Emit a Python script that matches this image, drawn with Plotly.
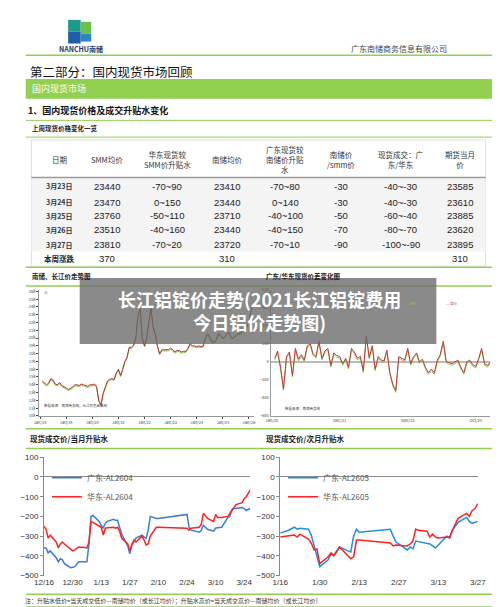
import plotly.graph_objects as go
import pandas as pd

W, H = 500, 607
def X(p): return p / W
def Y(p): return 1 - p / H

CJK = "Noto Sans CJK SC"
GREEN = "#92d050"

# ---- table data ----
tbl_header = ["日期", "SMM均价", "华东现货较<br>SMM价升贴水", "南储均价", "广东现货较<br>南储价升贴<br>水",
              "南储价<br>/smm价", "现货成交：广<br>东/华东", "期货当月<br>价"]
tbl_dates = ["3月23日", "3月24日", "3月25日", "3月26日", "3月27日"]
tbl_smm = ["23440", "23470", "23760", "23510", "23810"]
tbl_hd = ["-70~90", "0~150", "-50~110", "-40~160", "-70~20"]
tbl_nc = ["23410", "23440", "23710", "23440", "23720"]
tbl_gd = ["-70~80", "0~140", "-40~100", "-40~150", "-70~10"]
tbl_ratio = ["-30", "-30", "-50", "-70", "-90"]
tbl_deal = ["-40~-30", "-40~-30", "-60~-40", "-80~-70", "-100~-90"]
tbl_fut = ["23585", "23610", "23885", "23620", "23895"]
tbl_week = ["本周涨跌", "370", "", "310", "", "", "", "310"]

# ---- long-term price (monthly, Jan-2018 .. Mar-2026) ----
price = [14500, 14300, 14000, 14200, 14800, 14600, 14100, 14000, 14300, 13900, 13800, 13600,
         13400, 13500, 13700, 14000, 14000, 13900, 14100, 14000, 13900, 13800, 14000, 14000,
         14100, 13800, 12000, 11400, 12900, 13600, 14500, 14700, 14800, 14700, 15500, 16000,
         15200, 16000, 17000, 17500, 18800, 18800, 19100, 20000, 22800, 23900, 20000, 19000,
         20000, 22000, 23800, 21500, 20500, 19000, 18000, 18500, 18500, 18500, 18500, 18700,
         18500, 18200, 18400, 18400, 18200, 18300, 18300, 18700, 19300, 19000, 19000, 18900,
         19000, 18900, 19000, 20000, 20600, 20200, 19500, 19500, 19800, 20600, 20300, 20000,
         20200, 20600, 20700, 20000, 20100, 20300, 20600, 20600, 20800, 21100, 21500, 22200,
         23700, 24300, 24800]
price_dates = pd.date_range("2018-01-15", periods=len(price), freq="MS")

# ---- Guangdong/East China spread (monthly, Jan-2020 .. Feb-2026) ----
spread_hi = [40, 120, -60, -300, 60, 110, -150, 150, 30, 80, 20, 180,
             200, 90, 60, 230, 40, 120, 150, -40, 100, 70, 60, -20,
             40, -60, 150, 110, 40, 60, -100, 290, 50, 180, -80, 60,
             20, 10, 130, -120, -250, -320, 60, 40, 20, 150, -20, 60,
             100, 0, 30, -60, -120, -80, -120, 20, 80, 230, 10, -10,
             -20, 0, 20, -60, -120, 0, 20, -30, -50, 40, 150, -20, -40, 0]
spread_lo = [v - 18 for v in spread_hi]
spread_dates = pd.date_range("2020-01-15", periods=len(spread_hi), freq="MS")

# ---- current-month premium ----
cm_dates = ["12/16", "12/17", "12/18", "12/19", "12/22", "12/23", "12/24", "12/25", "12/26", "12/29",
            "12/30", "12/31", "1/2", "1/5", "1/6", "1/7", "1/8", "1/9", "1/12", "1/13",
            "1/14", "1/15", "1/16", "1/19", "1/20", "1/21", "1/22", "1/23", "1/26", "1/27",
            "1/28", "1/29", "1/30", "2/2", "2/3", "2/4", "2/5", "2/6", "2/9", "2/10",
            "2/24", "2/25", "2/26", "3/2", "3/3", "3/4", "3/5", "3/6", "3/9", "3/10",
            "3/11", "3/12", "3/13", "3/16", "3/17", "3/18", "3/19", "3/20", "3/23", "3/24",
            "3/25", "3/26", "3/27"]
cm_gd = [-360, -360, -385, -375, -410, -430, -415, -420, -440, -460,
         -458, -455, -430, -430, -430, -340, -200, -195, -225, -245,
         -260, -235, -225, -215, -220, -220, -250, -290, -350, -390,
         -340, -330, -310, -295, -305, -310, -270, -200, -210, -210,
         -190, -255, -270, -280, -270, -245, -255, -265, -275, -260,
         -258, -255, -255, -205, -200, -165, -160, -160, -155, -160,
         -170, -165, -160]
cm_hd = [-250, -265, -310, -295, -330, -360, -340, -330, -340, -370,
         -375, -370, -355, -358, -360, -330, -225, -230, -250, -255,
         -295, -260, -258, -255, -260, -255, -275, -310, -340, -375,
         -345, -320, -330, -300, -320, -345, -340, -300, -255, -255,
         -260, -270, -260, -255, -240, -185, -195, -210, -225, -190,
         -205, -205, -205, -200, -185, -165, -150, -140, -130, -110,
         -100, -80, -65]

# ---- next-month premium ----
nm_dates = ["1/16", "1/19", "1/21", "1/22", "1/23", "1/26", "1/27", "1/28", "1/29", "1/30",
            "2/2", "2/3", "2/4", "2/5", "2/6", "2/9", "2/10", "2/11", "2/12", "2/13",
            "2/24", "2/25", "2/26", "3/2", "3/3", "3/4", "3/5", "3/6", "3/9", "3/10",
            "3/11", "3/12", "3/13", "3/16", "3/17", "3/18", "3/19", "3/20", "3/23", "3/24",
            "3/25", "3/26", "3/27"]
nm_gd = [-285, -270, -255, -265, -260, -265, -295, -350, -400, -455,
         -420, -390, -395, -375, -355, -375, -380, -300, -265, -280,
         -265, -300, -330, -370, -355, -365, -325, -328, -335, -340,
         -350, -360, -345, -300, -305, -270, -250, -230, -205, -225,
         -235, -230, -225]
nm_hd = [-305, -300, -295, -305, -290, -315, -335, -370, -365, -440,
         -405, -385, -400, -380, -355, -400, -415, -405, -320, -320,
         -335, -350, -345, -350, -340, -325, -265, -270, -275, -305,
         -290, -305, -310, -305, -310, -270, -240, -210, -185, -200,
         -170, -160, -135]

def to_dt(lst):
    out = []
    for s in lst:
        m, d = s.split("/")
        yr = 2025 if int(m) == 12 else 2026
        out.append(pd.Timestamp(yr, int(m), int(d)))
    return out

fig = go.Figure()

# top-left price chart
fig.add_trace(go.Scatter(x=price_dates, y=[v - 150 for v in price], mode="lines",
                         line=dict(color="#8fc85a", width=1), xaxis="x", yaxis="y", showlegend=False))
fig.add_trace(go.Scatter(x=price_dates, y=price, mode="lines",
                         line=dict(color="#b03030", width=1), xaxis="x", yaxis="y", showlegend=False))
# top-right spread chart
fig.add_trace(go.Scatter(x=spread_dates, y=spread_lo, mode="lines",
                         line=dict(color="#8fc85a", width=1), xaxis="x2", yaxis="y2", showlegend=False))
fig.add_trace(go.Scatter(x=spread_dates, y=spread_hi, mode="lines",
                         line=dict(color="#c0393b", width=1), xaxis="x2", yaxis="y2", showlegend=False))
# bottom-left
fig.add_trace(go.Scatter(x=to_dt(cm_dates), y=cm_gd, mode="lines", name="广东-AL2604",
                         line=dict(color="#3a7dd6", width=1.5), xaxis="x3", yaxis="y3", legend="legend"))
fig.add_trace(go.Scatter(x=to_dt(cm_dates), y=cm_hd, mode="lines", name="华东-AL2604",
                         line=dict(color="#ff2020", width=1.5), xaxis="x3", yaxis="y3", legend="legend"))
# bottom-right
fig.add_trace(go.Scatter(x=to_dt(nm_dates), y=nm_gd, mode="lines", name="广东-AL2605",
                         line=dict(color="#1f8fe0", width=1.5), xaxis="x4", yaxis="y4", legend="legend2"))
fig.add_trace(go.Scatter(x=to_dt(nm_dates), y=nm_hd, mode="lines", name="华东-AL2605",
                         line=dict(color="#ff2020", width=1.5), xaxis="x4", yaxis="y4", legend="legend2"))

small = dict(size=4, color="#444")
tick9 = dict(size=8, color="#333", family="Arial")

fig.update_layout(
    width=W, height=H, margin=dict(l=0, r=0, t=0, b=0),
    paper_bgcolor="white", plot_bgcolor="white",
    font=dict(family=CJK),
    xaxis=dict(domain=[X(22), X(245)], anchor="y", showgrid=False, showline=True, linecolor="#999",
               tickfont=small, tickformat="%b/%y", dtick="M12", tick0="2018-01-01",
               range=["2017-12-20", "2026-03-15"], ticks="outside", ticklen=2),
    yaxis=dict(domain=[Y(410), Y(282)], anchor="x", range=[10000, 26200], dtick=1000,
               showgrid=False, showline=True, linecolor="#999", tickfont=small,
               ticks="outside", ticklen=2),
    xaxis2=dict(domain=[X(262), X(490)], anchor="y2", showgrid=False, showline=True, linecolor="#999",
                tickfont=small, tickformat="%b/%y", tickvals=["2020-01-01", "2021-12-01", "2023-11-01", "2025-10-01"],
                range=["2019-12-20", "2026-03-01"]),
    yaxis2=dict(domain=[Y(410), Y(282)], anchor="x2", range=[-600, 800], dtick=200,
                showgrid=False, zeroline=True, zerolinecolor="#bbb", showline=True, linecolor="#999",
                tickfont=small),
    xaxis3=dict(domain=[X(27), X(241)], anchor="y3", range=["2025-12-16", "2026-03-27"],
                tickvals=to_dt(["12/16", "12/30", "1/13", "1/27", "2/10", "2/24", "3/10", "3/24"]),
                ticktext=["12/16", "12/30", "1/13", "1/27", "2/10", "2/24", "3/10", "3/24"],
                showgrid=False, showline=False, tickfont=tick9),
    yaxis3=dict(domain=[Y(572), Y(452)], anchor="x3", range=[-500, 100], dtick=100,
                showgrid=False, zeroline=True, zerolinecolor="#888", zerolinewidth=1,
                showline=True, linecolor="#888", ticks="outside", ticklen=3, tickcolor="#888", tickfont=tick9),
    xaxis4=dict(domain=[X(272), X(477)], anchor="y4", range=["2026-01-16", "2026-03-27"],
                tickvals=to_dt(["1/16", "1/30", "2/13", "2/27", "3/13", "3/27"]),
                ticktext=["1/16", "1/30", "2/13", "2/27", "3/13", "3/27"],
                showgrid=False, showline=False, tickfont=tick9),
    yaxis4=dict(domain=[Y(572), Y(452)], anchor="x4", range=[-500, 100], dtick=100,
                showgrid=False, zeroline=True, zerolinecolor="#888", zerolinewidth=1,
                showline=True, linecolor="#888", ticks="outside", ticklen=3, tickcolor="#888", tickfont=tick9),
    legend=dict(x=X(30), y=Y(458), xanchor="left", yanchor="top", bgcolor="rgba(0,0,0,0)",
                font=dict(size=8, color="#555", family=CJK), tracegroupgap=0),
    legend2=dict(x=X(275), y=Y(458), xanchor="left", yanchor="top", bgcolor="rgba(0,0,0,0)",
                 font=dict(size=8, color="#555", family=CJK), tracegroupgap=0),
)

shapes = []
ann = []
def hline(y, x0=8, x1=492, w=1.5, c=GREEN):
    shapes.append(dict(type="line", xref="paper", yref="paper", x0=X(x0), x1=X(x1), y0=Y(y), y1=Y(y),
                       line=dict(color=c, width=w)))
def rect(x0, y0, x1, y1, fill, lw=0, lc=None):
    shapes.append(dict(type="rect", xref="paper", yref="paper", x0=X(x0), x1=X(x1), y0=Y(y0), y1=Y(y1),
                       fillcolor=fill, line=dict(width=lw, color=lc or fill), layer="below"))
def text(x, y, s, size=8, color="#222", anchor="left", bold=False, fam=CJK):
    if bold:
        s = "<b>" + s + "</b>"
    ann.append(dict(x=X(x), y=Y(y), xref="paper", yref="paper", text=s, showarrow=False,
                    xanchor=anchor, yanchor="middle", font=dict(size=size, color=color, family=fam)))

# header + logo
rect(52, 8, 65, 20, "#1c9a8c")
rect(65, 10, 76, 22, "#6cc04a")
rect(52, 20, 65, 32, "#1f5fa8")
rect(65, 22, 76, 30, "#2a86c4")
text(65, 38, "NANCHU南储", 7, "#1f3a6e", "center", True)
text(447, 37, "广东南储商务信息有限公司", 8, "#444", "right")
hline(44)
text(10, 60, "第二部分：国内现货市场回顾", 12.5, "#111")
rect(8, 68, 492, 88, GREEN)
text(12, 78, "国内现货市场", 9, "white")
text(8, 100, "1、国内现货价格及成交升贴水变化", 9, "#111", bold=True)
hline(110, 8, 492, 1)
text(12, 118, "上周现货价格变化一览", 6.5, "#222", bold=True)
hline(127, 8, 492, 1)

# table
rect(14, 130, 485, 258, "white", 0.6, "#ccc")
rect(14, 169, 485, 243, "#f4f4f4")
hline(168, 14, 485, 1.5, "#999")
col_x = [43, 92, 155, 217, 277, 335, 397, 458]
for cx, h in zip(col_x, tbl_header):
    text(cx, 150, h, 7.5, "#333", "center")
row_y = [177, 193, 207, 221, 236]
cols = [tbl_dates, tbl_smm, tbl_hd, tbl_nc, tbl_gd, tbl_ratio, tbl_deal, tbl_fut]
for ci, col in enumerate(cols):
    for ri, v in enumerate(col):
        if ci == 0:
            text(col_x[ci], row_y[ri], v, 7, "#333", "center", bold=True)
        else:
            text(col_x[ci], row_y[ri], v, 9.5, "#222", "center", fam="Arial")
for ci, v in enumerate(tbl_week):
    if v:
        text(col_x[ci], 250, v, 7.5 if ci == 0 else 9.5, "#222", "center", bold=(ci == 0),
             fam=CJK if ci == 0 else "Arial")

# middle charts
hline(259)
text(12, 268, "南储、长江价走势图", 6.5, "#222", bold=True)
text(255, 268, "广东/华东现货价差变化图", 6.5, "#222", bold=True)
hline(278)
text(25, 285, "元", 3.5, "#666")
text(25, 399, "数据来源：南储商务网，长江有色金属网", 3.5, "#444")
text(275, 402, "数据来源：南储商务网", 3.5, "#444")
text(400, 296, "— 低价", 3.5, "#8fc85a")
text(442, 296, "— 高价", 3.5, "#c0393b")

# overlay title
shapes.append(dict(type="rect", xref="paper", yref="paper", x0=X(64), x1=X(434), y0=Y(270), y1=Y(337),
                   fillcolor="rgba(105,105,105,0.78)", line=dict(width=0), layer="above"))
ann.append(dict(x=X(250), y=Y(303), xref="paper", yref="paper", showarrow=False, align="center",
                text="<b>长江铝锭价走势(2021长江铝锭费用<br>今日铝价走势图)</b>",
                font=dict(size=18, color="white", family=CJK)))

# bottom charts
hline(423)
text(10, 433, "现货成交价/当月升贴水", 7.5, "#222", bold=True)
text(255, 433, "现货成交价/次月升贴水", 7.5, "#222", bold=True)
hline(443)
hline(591)
text(5, 597, "注：升贴水低价=当天成交低价—南储均价（或长江均价）；升贴水高价=当天成交高价—南储均价（或长江均价）", 6, "#333")
hline(604)

fig.update_layout(shapes=shapes, annotations=ann)
fig.write_html("out.html")
